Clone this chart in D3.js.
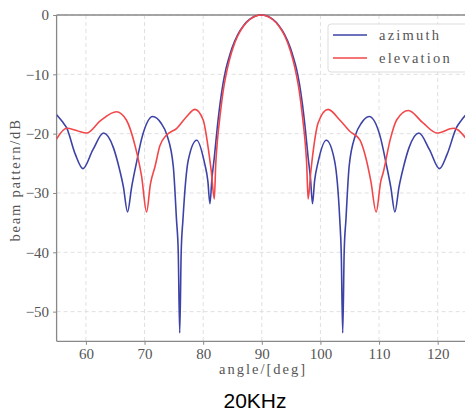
<!DOCTYPE html>
<html>
<head>
<meta charset="utf-8">
<script src="https://cdn.jsdelivr.net/npm/d3@7"></script>
<style>
  body { margin: 0; background: #fff; }
  svg { display: block; }
</style>
</head>
<body>
<svg id="chart" width="465" height="412"></svg>
<script>
// azimuth beam pattern
const azimuthAngle = [55, 56, 56.7, 58.2, 59.5, 61.2, 63, 64.7, 65.6, 66.4, 67.1, 67.8, 68.6, 69.6, 71.4, 72.8, 73.8, 74.9,
  75.45, 75.75, 76, 76.25, 76.55, 77.45, 78.9, 80.2, 80.8, 81.15, 81.5, 81.9, 82.4, 82.9, 83.4, 83.9, 84.4, 84.9,
  85.9, 86.9, 87.9, 88.9, 89.9, 90.9, 91.9, 92.9, 93.9, 94.9, 95.4, 95.9, 96.4, 96.9, 97.4, 97.9, 98.3, 98.65,
  99, 99.6, 101, 102.4, 103.3, 103.55, 103.8, 104.05, 104.35, 104.9, 106, 107, 108.3, 110.2, 111.2, 112, 112.7,
  113.4, 114.2, 115.1, 116.8, 118.6, 120.3, 121.6, 123.2, 124, 125]
const azimuthDb = [-16.8, -18, -19, -23.5, -25.9, -22.7, -19.9, -22.4, -25.5, -29, -33.2, -29, -25, -20.5, -17.1, -18.2, -20.2, -25.5,
  -34.5, -40, -53.6, -40, -34.5, -24.5, -21.1, -24.8, -28, -31.8, -27.5, -24, -19, -14.8, -11.5, -9, -7.2, -5.6,
  -3.3, -1.75, -0.75, -0.18, 0, -0.18, -0.75, -1.75, -3.3, -5.6, -7.2, -9, -11.5, -14.8, -19, -24, -27.5, -31.8,
  -28, -24.8, -21.1, -24.5, -34.5, -40, -53.6, -40, -34.5, -25.5, -20.2, -18.2, -17.1, -20.5, -25, -29, -33.2,
  -29, -25.5, -22.4, -19.9, -22.7, -25.9, -23.5, -19, -17.8, -16.6]

// elevation beam pattern
const elevationAngle = [55, 56.7, 58.5, 60.1, 62.5, 65.2, 66.9, 68.4, 69.5, 70.35, 71, 71.8, 72.6, 73.8, 75.5, 77.2, 78.6,
  80, 80.9, 81.4, 81.9, 82.15, 82.4, 82.9, 83.4, 83.9, 84.4, 84.9, 85.9, 86.9, 87.9, 88.9, 89.9, 90.9, 91.9, 92.9,
  93.9, 94.9, 95.4, 95.9, 96.4, 96.9, 97.4, 97.65, 97.9, 98.35, 98.8, 99.6, 101.3, 103.3, 105, 106.7, 107.6, 108.6,
  109.5, 110.3, 110.7, 111.9, 113, 115, 117.5, 119.9, 122.7, 125]
const elevationDb = [-20.9, -19.1, -19.5, -19.9, -17.8, -16.3, -17.7, -22.1, -27.2, -33.2, -28.5, -25.5, -22.1, -20.2, -19.1, -17.1, -15.9,
  -17.7, -22.7, -26.5, -31, -25, -21.5, -16.8, -12.9, -10.1, -7.9, -6.1, -3.5, -1.85, -0.8, -0.2, 0, -0.2, -0.8, -1.85,
  -3.5, -6.1, -7.9, -10.1, -12.9, -16.8, -21.5, -25, -31, -26.5, -22.7, -18.2, -15.9, -17.7, -19.6, -21, -23.5, -28,
  -33.2, -28, -26.6, -21, -17.7, -16.1, -18.2, -19.9, -19.1, -21]

const xTicks = [60, 70, 80, 90, 100, 110, 120]
const yTicks = [0, -10, -20, -30, -40, -50]
const seriesNames = ['azimuth', 'elevation']
const seriesColors = ['#3d43a6', '#f2474a']

const svg = d3.select('#chart')
const plotLeft = 56.6, plotRight = 467, plotTop = 15, plotBottom = 341.3

const x = d3.scaleLinear().domain([55, 125]).range([plotLeft, plotRight])
const y = d3.scaleLinear().domain([-55, 0]).range([plotBottom, plotTop])

const serif = '"Liberation Serif", "Times New Roman", serif'

svg.append('defs').append('clipPath').attr('id', 'plot')
  .append('rect').attr('x', plotLeft).attr('y', plotTop - 2)
  .attr('width', plotRight - plotLeft).attr('height', plotBottom - plotTop + 2)

// grid
const grid = svg.append('g')
grid.selectAll('.vg').data(xTicks).enter().append('line')
  .attr('x1', (d) => x(d)).attr('x2', (d) => x(d))
  .attr('y1', plotTop).attr('y2', plotBottom)
  .attr('stroke', '#dcdcdc').attr('stroke-width', 0.9).attr('stroke-dasharray', '4,3')
grid.selectAll('.hg').data(yTicks).enter().append('line')
  .attr('x1', plotLeft).attr('x2', plotRight)
  .attr('y1', (d) => y(d)).attr('y2', (d) => y(d))
  .attr('stroke', '#dcdcdc').attr('stroke-width', 0.9).attr('stroke-dasharray', '4,3')

// axes
const fmt = (d) => (d < 0 ? '\u2212' + Math.abs(d) : String(d))
const xAxis = svg.append('g')
  .attr('transform', `translate(0,${plotBottom})`)
  .call(d3.axisBottom(x).tickValues(xTicks).tickSize(3.5).tickPadding(4).tickFormat(fmt))
const yAxis = svg.append('g')
  .attr('transform', `translate(${plotLeft},0)`)
  .call(d3.axisLeft(y).tickValues(yTicks).tickSize(3.5).tickPadding(4).tickFormat(fmt))

for (const a of [xAxis, yAxis]) {
  a.select('.domain').remove()
  a.selectAll('line').attr('stroke', '#888')
  a.selectAll('text').attr('fill', '#555').style('font-family', serif).style('font-size', '15px')
}
xAxis.selectAll('text').attr('dy', '0.71em')

// spines
svg.append('line').attr('x1', plotLeft).attr('x2', plotLeft).attr('y1', plotTop).attr('y2', plotBottom)
  .attr('stroke', '#888').attr('stroke-width', 1.3)
svg.append('line').attr('x1', plotLeft).attr('x2', plotRight).attr('y1', plotBottom).attr('y2', plotBottom)
  .attr('stroke', '#888').attr('stroke-width', 1.3)
svg.append('line').attr('x1', plotLeft).attr('x2', plotRight).attr('y1', plotTop).attr('y2', plotTop)
  .attr('stroke', '#888').attr('stroke-width', 1.3)

// curves
const line = d3.line()
  .x((d) => x(d[0]))
  .y((d) => y(d[1]))
  .curve(d3.curveMonotoneX)

const series = [
  d3.zip(azimuthAngle, azimuthDb),
  d3.zip(elevationAngle, elevationDb)
]

svg.append('g').attr('clip-path', 'url(#plot)')
  .selectAll('path').data(series).enter().append('path')
  .attr('d', (d) => line(d))
  .attr('fill', 'none')
  .attr('stroke', (_, i) => seriesColors[i])
  .attr('stroke-width', 1.6)
  .attr('stroke-linejoin', 'round')

// legend
const lg = svg.append('g').attr('transform', 'translate(328,24)')
lg.append('rect').attr('width', 150).attr('height', 48).attr('rx', 3)
  .attr('fill', '#fff').attr('fill-opacity', 0.85).attr('stroke', '#ddd')
seriesNames.forEach((name, i) => {
  lg.append('line').attr('x1', 5).attr('x2', 39).attr('y1', 11 + i * 23).attr('y2', 11 + i * 23)
    .attr('stroke', seriesColors[i]).attr('stroke-width', 1.6)
  lg.append('text').attr('x', 51).attr('y', 11 + i * 23).attr('dy', '0.35em')
    .attr('fill', '#555').style('font-family', serif).style('font-size', '14.5px')
    .style('letter-spacing', '2.2px')
    .text(name)
})

// labels
svg.append('text').attr('x', 263).attr('y', 374)
  .attr('text-anchor', 'middle').attr('fill', '#555')
  .style('font-family', serif).style('font-size', '14.5px').style('letter-spacing', '2px')
  .text('angle/[deg]')
svg.append('text').attr('transform', 'translate(20,180) rotate(-90)')
  .attr('text-anchor', 'middle').attr('fill', '#555')
  .style('font-family', serif).style('font-size', '14.5px').style('letter-spacing', '1.8px')
  .text('beam pattern/dB')

svg.append('text').attr('x', 255).attr('y', 408)
  .attr('text-anchor', 'middle').attr('fill', '#000')
  .style('font-family', '"Liberation Sans", Arial, sans-serif').style('font-size', '21px')
  .text('20KHz')
</script>
</body>
</html>
